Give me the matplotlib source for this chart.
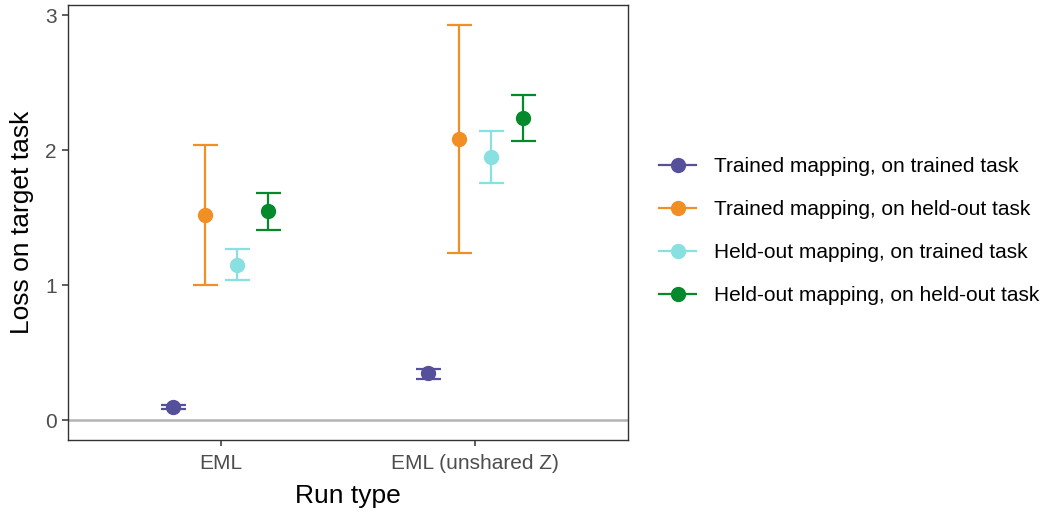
import matplotlib
matplotlib.use("Agg")
import matplotlib.pyplot as plt
import numpy as np
from matplotlib.lines import Line2D

plt.rcParams['font.family'] = ['Liberation Sans', 'DejaVu Sans']

run_types = ["EML", "EML (unshared Z)"]
series = ["Trained mapping, on trained task",
          "Trained mapping, on held-out task",
          "Held-out mapping, on trained task",
          "Held-out mapping, on held-out task"]
colors = ["#56509c", "#f28f24", "#88e0e0", "#04892c"]

means = [
    [0.10, 0.35],
    [1.52, 2.08],
    [1.15, 1.95],
    [1.55, 2.24],
]
lower = [
    [0.085, 0.305],
    [1.00, 1.24],
    [1.035, 1.76],
    [1.405, 2.07],
]
upper = [
    [0.11, 0.38],
    [2.04, 2.93],
    [1.27, 2.145],
    [1.685, 2.405],
]

fig = plt.figure(figsize=(10.5, 5.14), dpi=100)
ax = fig.add_axes([68/1050, 1-440/514, (628-68)/1050, (440-5)/514])

ax.axhline(0, color="#b3b3b3", lw=1.8, zorder=1)

x = np.arange(1, len(run_types)+1)
dodge = 0.5
n = len(series)
for i in range(n):
    off = (i - (n-1)/2) * dodge / n
    m = np.array(means[i]); lo = np.array(lower[i]); hi = np.array(upper[i])
    ax.errorbar(x + off, m, yerr=[m - lo, hi - m], fmt='o', color=colors[i],
                ms=10, elinewidth=1.6, capsize=9, capthick=1.6, zorder=3)

ax.set_xlim(0.4, 2.6)
ax.set_ylim(-0.147, 3.075)
ax.set_xticks(x)
ax.set_xticklabels(run_types)
ax.set_yticks([0, 1, 2, 3])
ax.tick_params(axis='both', colors="#333333", labelcolor="#4d4d4d", labelsize=15,
               length=4, width=1.1, pad=4)
ax.tick_params(axis='x', pad=6)
for s in ax.spines.values():
    s.set_color("#333333")
    s.set_linewidth(1)
ax.set_xlabel("Run type", fontsize=19, labelpad=8)
ax.set_ylabel("Loss on target task", fontsize=19, labelpad=8)

handles = [Line2D([0], [0], color=c, marker='o', ms=10, lw=1.6) for c in colors]
fig.legend(handles, series, loc='center left', bbox_to_anchor=(640/1050, 1-231/514),
           frameon=False, fontsize=15, handlelength=1.8, handletextpad=0.85,
           labelspacing=1.15)

fig.savefig("out.png", dpi=100)
